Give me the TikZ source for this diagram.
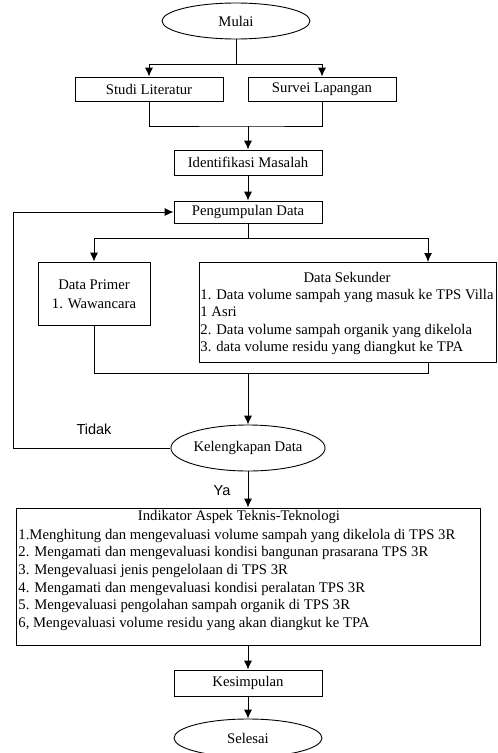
\documentclass[tikz,border=0pt]{standalone}
\usepackage{fontspec}
\setmainfont{Liberation Serif}
\newfontfamily\arialfont{Liberation Sans}
\usetikzlibrary{shapes.geometric,arrows.meta}

\tikzset{
  kotak/.style={draw, rectangle, inner sep=0pt, minimum width=148pt, minimum height=24pt},
  oval/.style={draw, ellipse, inner sep=0pt, minimum width=148pt, minimum height=36pt},
  baris/.style={anchor=base west, inner sep=0pt},
  label/.style={font=\arialfont\fontsize{14.5}{17}\selectfont}
}

\begin{document}
\begin{tikzpicture}[x=1pt,y=-1pt,line width=0.9pt,>={Latex[length=9pt,width=8pt]},
    font=\fontsize{14.7}{17.7}\selectfont]
    \useasboundingbox (0,0) rectangle (498,753);

    % tahap awal
    \node[oval] (mulai) at (236,21) {Mulai};
    \node[kotak] (studi) at (149,89) {Studi Literatur};
    \node[kotak] (survei) at (322,89) {Survei Lapangan};
    \node[kotak,minimum height=25pt] (identifikasi) at (248,162.5) {Identifikasi Masalah};
    \node[kotak,minimum height=22pt] (pengumpulan) at (248,212) {Pengumpulan Data};

    \coordinate (pecah1) at (236,64);
    \coordinate (gabung1) at (248,126);
    \draw[->] (mulai.south) -- (pecah1) -| (studi.north);
    \draw[->] (pecah1) -| (survei.north);
    \draw (studi.south) |- (gabung1) -| (survei.south);
    \draw[->] (gabung1) -- (identifikasi.north);
    \draw[->] (identifikasi) -- (pengumpulan);

    % data primer dan sekunder
    \node[kotak,minimum width=112pt,minimum height=63pt] (primer) at (94,293.5) {};
    \node[anchor=base] (primer1) at (94,289) {Data Primer};
    \node[anchor=base] (primer2) at (94,308) {1. Wawancara};

    \node[kotak,minimum width=297pt,minimum height=100pt] (sekunder) at (347.5,312) {};
    \node[anchor=base] (sekunderjudul) at (347,282) {Data Sekunder};
    \foreach \teks [count=\i] in {{1. Data volume sampah yang masuk ke TPS Villa},
        {1 Asri},
        {2. Data volume sampah organik yang dikelola},
        {3. data volume residu yang diangkut ke TPA}}
      \node[baris] (sekunder\i) at (200,281.4+17.6*\i) {\teks};

    \coordinate (pecah2) at (248,238);
    \coordinate (sekunderatas) at (428,262);
    \coordinate (sekunderbawah) at (428,362);
    \coordinate (gabung2) at (248,373);
    \draw (pengumpulan.south) -- (pecah2);
    \draw[->] (pecah2) -| (primer.north);
    \draw[->] (pecah2) -| (sekunderatas);
    \draw (primer.south) |- (gabung2);
    \draw (sekunderbawah) |- (gabung2);

    % pemeriksaan data
    \node[oval,minimum width=150pt,minimum height=46pt] (kelengkapan) at (248,448) {Kelengkapan Data};
    \draw[->] (gabung2) -- (kelengkapan.north);

    \coordinate (balik) at (13,448);
    \draw[->] (kelengkapan.west) -- (balik) |- (pengumpulan.west);
    \node[label] (tidak) at (94,429) {Tidak};
    \node[label] (ya) at (222,491) {Ya};

    % indikator
    \node[kotak,minimum width=464pt,minimum height=137pt] (indikator) at (248,576.5) {};
    \node[anchor=base] (indikatorjudul) at (239,520) {Indikator Aspek Teknis-Teknologi};
    \foreach \teks [count=\i] in {{1.Menghitung dan mengevaluasi volume sampah yang dikelola di TPS 3R},
        {2. Mengamati dan mengevaluasi kondisi bangunan prasarana TPS 3R},
        {3. Mengevaluasi jenis pengelolaan di TPS 3R},
        {4. Mengamati dan mengevaluasi kondisi peralatan TPS 3R},
        {5. Mengevaluasi pengolahan sampah organik di TPS 3R},
        {6, Mengevaluasi volume residu yang akan diangkut ke TPA}}
      \node[baris] (indikator\i) at (18,521.3+17.7*\i) {\teks};
    \draw[->] (kelengkapan) -- (indikator.north);

    % akhir
    \node[kotak,minimum height=26pt] (kesimpulan) at (248,683) {Kesimpulan};
    \node[oval,minimum height=38pt] (selesai) at (248,738) {Selesai};
    \draw[->] (indikator) -- (kesimpulan);
    \draw[->] (kesimpulan) -- (selesai);
\end{tikzpicture}
\end{document}
